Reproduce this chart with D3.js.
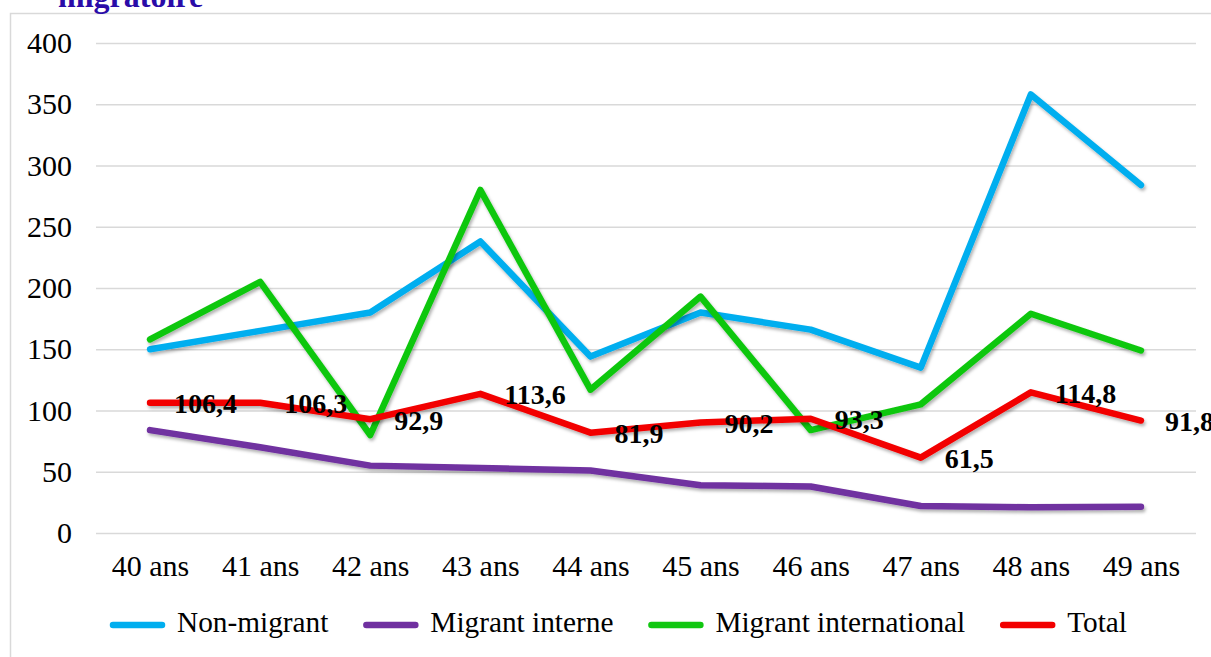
<!DOCTYPE html>
<html><head><meta charset="utf-8">
<script src="https://cdn.jsdelivr.net/npm/d3@7"></script>
<style>html,body{margin:0;padding:0;background:#fff;overflow:hidden}svg{display:block}</style>
</head><body>
<script>
const categories = ["40 ans","41 ans","42 ans","43 ans","44 ans","45 ans","46 ans","47 ans","48 ans","49 ans"];
const nonMigrant = [150,165,180,238,144,180,166,135,358,284];
const migrantInterne = [84,70,55,53,51,39,38,22,21,21.5];
const migrantInternational = [158,205,80,280,117,193,84,105,179,149];
const total = [106.4,106.3,92.9,113.6,81.9,90.2,93.3,61.5,114.8,91.8];
const yTicks = [0,50,100,150,200,250,300,350,400];
const seriesNames = ["Non-migrant","Migrant interne","Migrant international","Total"];
const seriesColors = ["#00AEEF","#7030A0","#11C711","#F20000"];
const titleText = "migratoire";

const W = 1211, H = 657;
const font = "'Liberation Serif','Times New Roman',serif";
const svg = d3.select("body").append("svg").attr("width", W).attr("height", H);

const defs = svg.append("defs");
const f = defs.append("filter").attr("id","sh").attr("x","-10%").attr("y","-10%").attr("width","120%").attr("height","130%");
f.append("feDropShadow").attr("dx",1.5).attr("dy",2.5).attr("stdDeviation",1.8).attr("flood-color","#000").attr("flood-opacity",0.3);

// frame
svg.append("rect").attr("x",10.5).attr("y",13.5).attr("width",1300).attr("height",700)
  .attr("fill","#fff").attr("stroke","#D9D9D9").attr("stroke-width",1.5);

// title (cut off at top, as in the reference)
svg.append("text").attr("x",58).attr("y",7).text(titleText)
  .attr("font-family",font).attr("font-weight","bold").attr("font-size",32).attr("fill","#2A0CA8");

const x = d3.scalePoint().domain(categories).range([95,1196]).padding(0.5);
const y = d3.scaleLinear().domain([0,400]).range([533,43]);

// gridlines
const grid = d3.axisLeft(y).tickValues(yTicks).tickSize(-(1196-96)).tickFormat("");
svg.append("g").attr("transform","translate(96,0)").call(grid)
  .call(g=>g.select(".domain").remove())
  .call(g=>g.selectAll("line").attr("stroke","#D9D9D9").attr("stroke-width",1.5));

// y axis labels
const ya = d3.axisLeft(y).tickValues(yTicks).tickSize(0).tickPadding(0);
svg.append("g").attr("transform","translate(72,0)").call(ya)
  .call(g=>g.select(".domain").remove())
  .call(g=>g.selectAll("text").attr("font-family",font).attr("font-size",30).attr("fill","#000"));

// x axis labels
const xa = d3.axisBottom(x).tickSize(0).tickPadding(0);
svg.append("g").attr("transform","translate(0,555)").call(xa)
  .call(g=>g.select(".domain").remove())
  .call(g=>g.selectAll("text").attr("font-family",font).attr("font-size",30).attr("fill","#000"));

const data = [nonMigrant, migrantInterne, migrantInternational, total];
const line = d3.line().x((d,i)=>x(categories[i])).y(d=>y(d));
data.forEach((s,k)=>{
  svg.append("path").datum(s).attr("d",line).attr("fill","none")
    .attr("stroke",seriesColors[k]).attr("stroke-width",6.5)
    .attr("stroke-linejoin","round").attr("stroke-linecap","round")
    .attr("filter","url(#sh)");
});

// data labels for total
svg.append("g").selectAll("text").data(total).join("text")
  .attr("x",(d,i)=>x(categories[i])+24).attr("y",d=>y(d)+4)
  .attr("dominant-baseline","middle")
  .attr("font-family",font).attr("font-weight","bold").attr("font-size",28).attr("fill","#000")
  .text(d=>d.toFixed(1).replace(".",","));

// legend
const lg = svg.append("g");
let lx = 110; const ly = 625;
seriesNames.forEach((n,k)=>{
  lg.append("line").attr("x1",lx+3).attr("x2",lx+52).attr("y1",ly).attr("y2",ly)
    .attr("stroke",seriesColors[k]).attr("stroke-width",6.5).attr("stroke-linecap","round");
  const t = lg.append("text").attr("x",lx+67).attr("y",ly).attr("dominant-baseline","middle")
    .attr("font-family",font).attr("font-size",29.3).attr("fill","#000").text(n);
  lx = lx + 67 + t.node().getComputedTextLength() + 35;
});
</script>
</body></html>
